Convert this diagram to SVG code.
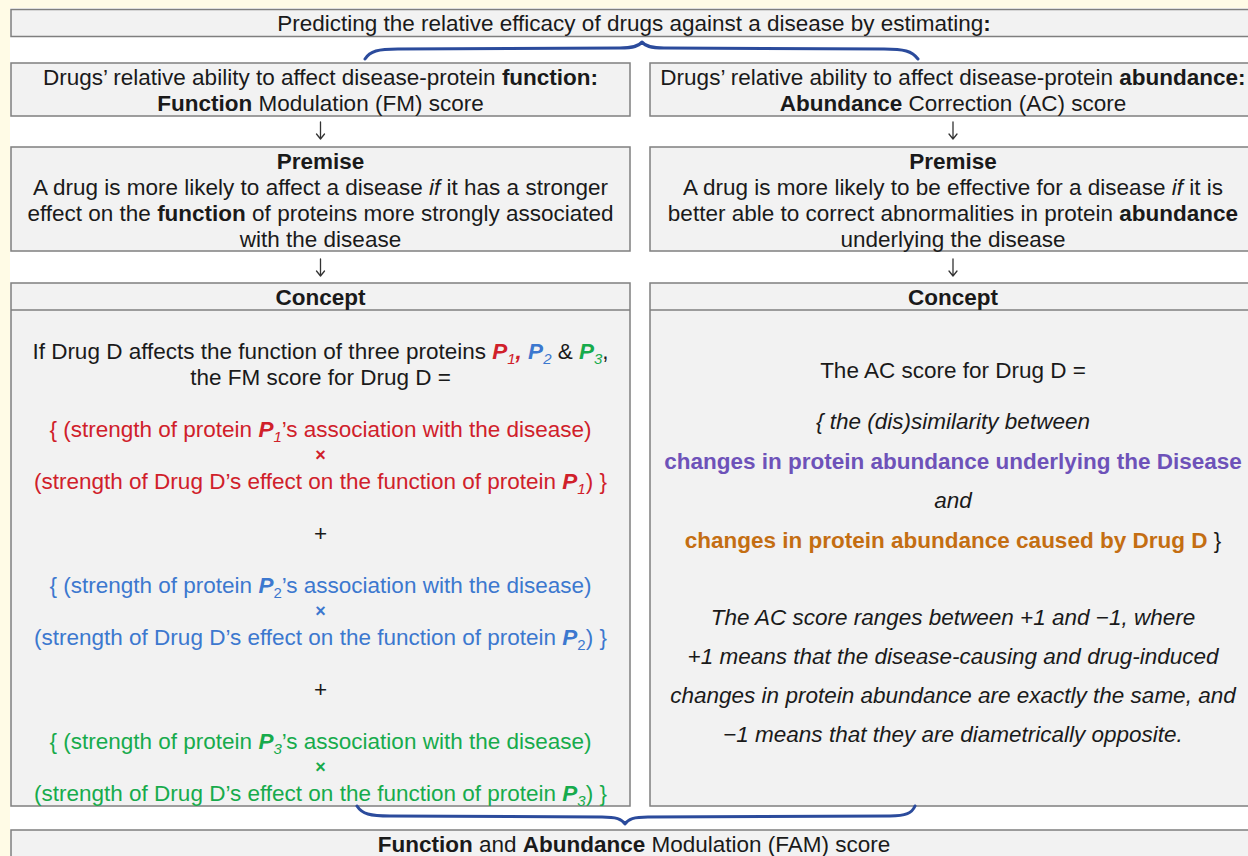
<svg xmlns="http://www.w3.org/2000/svg" width="1248" height="856" viewBox="0 0 1248 856">
<style>
text{font-family:"Liberation Sans",Arial,sans-serif;font-size:22.5px;fill:#1a1a1a;text-anchor:middle}
.box{fill:#f2f2f2;stroke:#7f7f7f;stroke-width:1.5}
.b{font-weight:bold}
.i{font-style:italic}
.bi{font-weight:bold;font-style:italic}
.red{fill:#d0202a}
.blue{fill:#3c78cf}
.green{fill:#17ab4c}
.purple{fill:#6e52b9}
.orange{fill:#c46e12}
.arrow{fill:none;stroke:#333;stroke-width:1.3;stroke-linecap:round;stroke-linejoin:round}
.brace{fill:none;stroke:#2b4b9c;stroke-width:3;stroke-linecap:round;stroke-linejoin:round}
.sub{font-size:15px}
</style>
<rect x="0" y="0" width="1248" height="856" fill="#fffbe6"/>
<rect x="10" y="8" width="1240" height="850" fill="#ffffff"/>

<g id="title">
<rect class="box" x="11" y="9.5" width="1250" height="27"/>
<text x="634" y="31">Predicting the relative efficacy of drugs against a disease by estimating<tspan class="b">:</tspan></text>
</g>

<g id="fm-score">
<rect class="box" x="11" y="63" width="619" height="53"/>
<text x="320.5" y="85">Drugs’ relative ability to affect disease-protein <tspan class="b">function:</tspan></text>
<text x="320.5" y="111"><tspan class="b">Function</tspan> Modulation (FM) score</text>
</g>

<g id="ac-score">
<rect class="box" x="650" y="63" width="620" height="53"/>
<text x="953" y="85">Drugs’ relative ability to affect disease-protein <tspan class="b">abundance:</tspan></text>
<text x="953" y="111"><tspan class="b">Abundance</tspan> Correction (AC) score</text>
</g>

<g id="fm-premise">
<rect class="box" x="11" y="147" width="619" height="104"/>
<text x="320.5" y="169" class="b">Premise</text>
<text x="320.5" y="195">A drug is more likely to affect a disease <tspan class="i">if</tspan> it has a stronger</text>
<text x="320.5" y="221">effect on the <tspan class="b">function</tspan> of proteins more strongly associated</text>
<text x="320.5" y="247">with the disease</text>
</g>

<g id="ac-premise">
<rect class="box" x="650" y="147" width="620" height="104"/>
<text x="953" y="169" class="b">Premise</text>
<text x="953" y="195">A drug is more likely to be effective for a disease <tspan class="i">if</tspan> it is</text>
<text x="953" y="221">better able to correct abnormalities in protein <tspan class="b">abundance</tspan></text>
<text x="953" y="247">underlying the disease</text>
</g>

<g id="fm-concept">
<rect class="box" x="11" y="283" width="619" height="523"/>
<line x1="11" y1="310" x2="630" y2="310" stroke="#7f7f7f" stroke-width="1.5"/>
<text x="320.5" y="305" class="b">Concept</text>
<text x="320.5" y="359">If Drug D affects the function of three proteins <tspan class="bi red">P</tspan><tspan class="i red sub" dy="5">1</tspan><tspan class="bi red" dy="-5">,</tspan> <tspan class="bi blue">P</tspan><tspan class="i blue sub" dy="5">2</tspan><tspan dy="-5"> &amp; </tspan><tspan class="bi green">P</tspan><tspan class="i green sub" dy="5">3</tspan><tspan dy="-5">,</tspan></text>
<text x="320.5" y="385">the FM score for Drug D =</text>
<text x="320.5" y="437" class="red">{ (strength of protein <tspan class="bi">P</tspan><tspan class="i sub" dy="5">1</tspan><tspan dy="-5">’s association with the disease)</tspan></text>
<text x="320.5" y="461" class="red b" style="font-size:18px">×</text>
<text x="320.5" y="489" class="red">(strength of Drug D’s effect on the function of protein <tspan class="bi">P</tspan><tspan class="i sub" dy="5">1</tspan><tspan dy="-5">) }</tspan></text>
<text x="320.5" y="541">+</text>
<text x="320.5" y="593" class="blue">{ (strength of protein <tspan class="bi">P</tspan><tspan class="sub" dy="5">2</tspan><tspan dy="-5">’s association with the disease)</tspan></text>
<text x="320.5" y="617" class="blue b" style="font-size:18px">×</text>
<text x="320.5" y="645" class="blue">(strength of Drug D’s effect on the function of protein <tspan class="bi">P</tspan><tspan class="sub" dy="5">2</tspan><tspan dy="-5">) }</tspan></text>
<text x="320.5" y="697">+</text>
<text x="320.5" y="749" class="green">{ (strength of protein <tspan class="bi">P</tspan><tspan class="i sub" dy="5">3</tspan><tspan dy="-5">’s association with the disease)</tspan></text>
<text x="320.5" y="773" class="green b" style="font-size:18px">×</text>
<text x="320.5" y="801" class="green">(strength of Drug D’s effect on the function of protein <tspan class="bi">P</tspan><tspan class="i sub" dy="5">3</tspan><tspan dy="-5">) }</tspan></text>
</g>

<g id="ac-concept">
<rect class="box" x="650" y="283" width="620" height="523"/>
<line x1="650" y1="310" x2="1250" y2="310" stroke="#7f7f7f" stroke-width="1.5"/>
<text x="953" y="305" class="b">Concept</text>
<text x="953" y="378">The AC score for Drug D =</text>
<text x="953" y="429" class="i">{ the (dis)similarity between</text>
<text x="953" y="469" class="b purple">changes in protein abundance underlying the Disease</text>
<text x="953" y="508" class="i">and</text>
<text x="953" y="548"><tspan class="b orange">changes in protein abundance caused by Drug D</tspan> }</text>
<text x="953" y="625" class="i">The AC score ranges between +1 and −1, where</text>
<text x="953" y="664" class="i">+1 means that the disease-causing and drug-induced</text>
<text x="953" y="703" class="i">changes in protein abundance are exactly the same, and</text>
<text x="953" y="742" class="i">−1 means that they are diametrically opposite.</text>
</g>

<g id="fam-score">
<rect class="box" x="11" y="830" width="1250" height="40"/>
<text x="634" y="852"><tspan class="b">Function</tspan> and <tspan class="b">Abundance</tspan> Modulation (FAM) score</text>
</g>

<g id="connectors">
<path class="arrow" d="M320.5,122 V139 M316.5,134 L320.5,139 L324.5,134"/>
<path class="arrow" d="M953,122 V139 M949,134 L953,139 L957,134"/>
<path class="arrow" d="M320.5,259 V276 M316.5,271 L320.5,276 L324.5,271"/>
<path class="arrow" d="M953,259 V276 M949,271 L953,276 L957,271"/>
<path class="brace" d="M365,59 C370,51 378,49 398,49 L620,48 C634,48 639,46 642,42 C645,46 650,48 664,48 L884,49 C904,49 912,51 918,59"/>
<path class="brace" d="M357,806 C362,814 370,816 390,816 L602,817 C616,817 622,819 625,824 C628,819 634,817 648,817 L890,816 C906,816 912,813 915,806"/>
</g>
</svg>
